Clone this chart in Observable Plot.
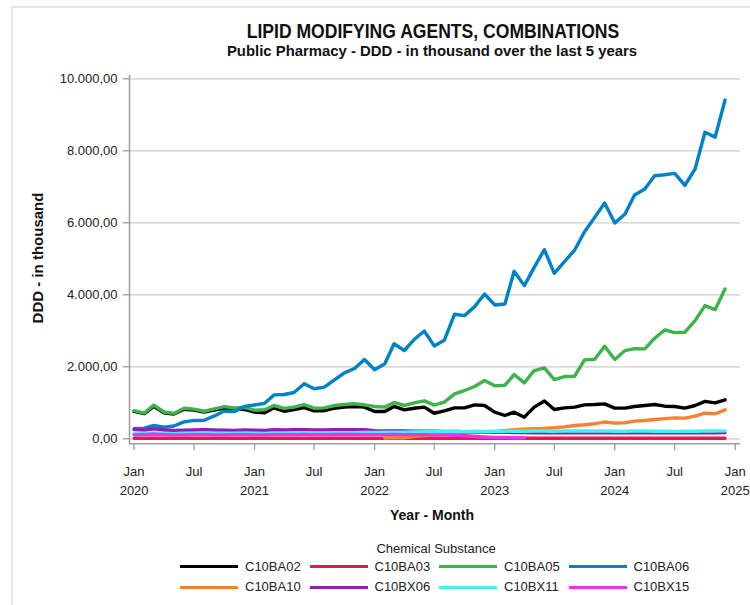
<!DOCTYPE html>
<html>
<head>
<meta charset="utf-8">
<script src="https://cdn.jsdelivr.net/npm/d3@7"></script>
<script src="https://cdn.jsdelivr.net/npm/@observablehq/plot@0.6"></script>
<style>
  html, body { margin: 0; padding: 0; background: #fff; }
  #wrap { position: relative; width: 750px; height: 605px; overflow: hidden; font-family: "Liberation Sans", Arial, sans-serif; color: #222; }
  #frame { position: absolute; left: 11px; top: 6px; width: 760px; height: 620px; border-left: 2px solid #e6e6e6; border-top: 2px solid #e6e6e6; }
  .abs { position: absolute; white-space: nowrap; }
  #title { left: 433px; top: 31px; transform: translate(-50%, -50%) scaleX(0.9); font-weight: bold; font-size: 19.5px; line-height: 22px; color: #111; }
  #subtitle { left: 432px; top: 51px; transform: translate(-50%, -50%) scaleX(0.96); font-weight: bold; font-size: 15.5px; line-height: 18px; color: #111; }
  #ylabel { left: 37px; top: 258px; transform: translate(-50%, -50%) rotate(-90deg); font-weight: bold; font-size: 15px; color: #111; }
  #xlabel { left: 432px; top: 515px; transform: translate(-50%, -50%); font-weight: bold; font-size: 14px; color: #111; }
  #legtitle { left: 436px; top: 548px; transform: translate(-50%, -50%); font-size: 13px; color: #222; }
  .sw { position: absolute; height: 3px; width: 58px; }
  .lt { position: absolute; font-size: 13px; line-height: 16px; color: #222; white-space: nowrap; }
  #chart { position: absolute; left: 0; top: 0; }
</style>
</head>
<body>
<div id="wrap">
  <div id="frame"></div>
  <div id="chart"></div>
  <div id="title" class="abs">LIPID MODIFYING AGENTS, COMBINATIONS</div>
  <div id="subtitle" class="abs">Public Pharmacy - DDD - in thousand over the last 5 years</div>
  <div id="ylabel" class="abs">DDD - in thousand</div>
  <div id="xlabel" class="abs">Year - Month</div>
  <div id="legtitle" class="abs">Chemical Substance</div>
  <div id="legend"></div>
</div>
<script>
// ---- data ----
const months = d3.utcMonth.range(new Date(Date.UTC(2020, 0, 1)), new Date(Date.UTC(2025, 0, 1)));

const seriesNames = ["C10BA02", "C10BA03", "C10BA05", "C10BA06", "C10BA10", "C10BX06", "C10BX11", "C10BX15"];
const seriesColors = ["#000000", "#e6194b", "#3cb44b", "#0082c8", "#f58231", "#911eb4", "#46f0f0", "#f032e6"];

const C10BA02 = [
  760, 700, 900, 725, 690, 820, 800, 745, 800, 850, 830, 815,
  745, 722, 861, 765, 810, 865, 778, 780, 850, 880, 898, 880,
  759, 759, 898, 805, 850, 880, 710, 775, 860, 860, 943, 925,
  740, 647, 740, 601, 879, 1050, 814, 860, 879, 943, 953, 971,
  851, 851, 897, 925, 953, 906, 897, 851, 925, 1040, 999, 1082
];
const C10BA03 = [
  14, 15, 15, 14, 16, 15, 15, 14, 15, 16, 15, 15,
  14, 15, 15, 16, 15, 14, 15, 15, 16, 15, 15, 14,
  15, 15, 16, 15, 14, 15, 15, 15, 16, 15, 14, 15,
  15, 16, 15, 15, 14, 15, 15, 16, 15, 15, 14, 15,
  16, 15, 15, 14, 15, 15, 16, 15, 15, 14, 15, 15
];
const C10BA05 = [
  780, 715, 935, 745, 705, 850, 825, 765, 833, 895, 855, 870,
  795, 805, 925, 845, 880, 950, 850, 860, 925, 954, 972, 944,
  898, 880, 1009, 925, 1000, 1055, 935, 1020, 1249, 1341, 1452, 1619,
  1471, 1489, 1785, 1554, 1896, 1970, 1646, 1730, 1739, 2192, 2211, 2571,
  2201, 2451, 2506, 2497, 2793, 3024, 2950, 2960, 3283, 3700, 3589, 4162
];
const C10BA06 = [
  278, 296, 370, 320, 355, 470, 510, 515, 635, 770, 755, 900,
  940, 985, 1220, 1230, 1285, 1528, 1390, 1435, 1640, 1833, 1953, 2203,
  1917, 2083, 2639, 2453, 2758, 2995, 2580, 2740, 3460, 3422, 3672, 4023,
  3718, 3746, 4652, 4255, 4763, 5253, 4597, 4920, 5244, 5753, 6151, 6548,
  5993, 6243, 6770, 6937, 7307, 7335, 7372, 7040, 7495, 8515, 8380, 9410
];
const C10BA10 = [
  null, null, null, null, null, null, null, null, null, null, null, null,
  null, null, null, null, null, null, null, null, null, null, null, null,
  null, 20, 25, 30, 60, 90, 100, 120, 140, 160, 175, 185,
  190, 230, 250, 265, 280, 290, 305, 330, 370, 390, 420, 465,
  435, 445, 490, 510, 535, 560, 580, 575, 630, 710, 695, 805
];
const C10BX06 = [
  255, 245, 280, 245, 235, 240, 245, 255, 245, 240, 235, 245,
  240, 235, 250, 245, 250, 255, 245, 245, 250, 255, 255, 250,
  225, 220, 215, 215, 210, 210, 210, 205, 205, 200, 200, 195,
  185, 180, 175, 175, 170, 170, 170, 170, 170, 170, 170, 165,
  170, 170, 165, 165, 170, 165, 165, 165, 170, 170, 170, 175
];
const C10BX11 = [
  145, 150, 160, 150, 145, 150, 150, 155, 150, 150, 155, 155,
  150, 150, 155, 155, 160, 160, 165, 165, 170, 170, 170, 175,
  175, 180, 180, 185, 190, 195, 200, 200, 205, 205, 210, 205,
  210, 210, 215, 210, 215, 215, 210, 215, 215, 220, 215, 215,
  210, 210, 215, 215, 210, 210, 205, 210, 210, 215, 215, 220
];
const C10BX15 = [
  110, 115, 125, 115, 110, 110, 115, 115, 110, 110, 115, 115,
  110, 110, 115, 115, 115, 120, 115, 115, 120, 120, 120, 115,
  115, 115, 120, 115, 115, 115, 110, 110, 100, 85, 65, 50,
  40, 35, 30, 25, null, null, null, null, null, null, null, null,
  null, null, null, null, null, null, null, null, null, null, null, null
];
const seriesValues = [C10BA02, C10BA03, C10BA05, C10BA06, C10BA10, C10BX06, C10BX11, C10BX15];

const yTicks = [0, 2000, 4000, 6000, 8000, 10000];
const xTicks = d3.utcMonth.every(6).range(new Date(Date.UTC(2020, 0, 1)), new Date(Date.UTC(2025, 0, 2)));
const monthLabels = {0: "Jan", 6: "Jul"};

// ---- build table ----
const rows = [];
seriesNames.forEach((name, i) => {
  seriesValues[i].forEach((v, j) => {
    if (v != null) rows.push({series: name, date: months[j], value: v});
  });
});

const deLocale = d3.formatLocale({decimal: ",", thousands: ".", grouping: [3], currency: ["", " €"]});
const yFmt = deLocale.format(",.2f");

const xDomain = [new Date(Date.UTC(2019, 11, 18)), new Date(Date.UTC(2025, 0, 17))];
const yDomain = [-139, 10092];

const chart = Plot.plot({
  width: 750,
  height: 500,
  marginTop: 75,
  marginBottom: 56.7,
  marginLeft: 129,
  marginRight: 10,
  style: {fontFamily: "'Liberation Sans', Arial, sans-serif", fontSize: "13px", color: "#222", background: "transparent", overflow: "visible"},
  x: {type: "utc", domain: xDomain},
  y: {domain: yDomain},
  color: {domain: seriesNames, range: seriesColors},
  marks: [
    Plot.gridY(yTicks, {stroke: "#cccccc", strokeOpacity: 1, strokeWidth: 1.3}),
    Plot.ruleX([xDomain[0]], {stroke: "#9d9d9d", strokeWidth: 1.5}),
    Plot.ruleY([yDomain[0]], {stroke: "#9d9d9d", strokeWidth: 1.5}),
    Plot.axisY(yTicks, {tickSize: 6, tickPadding: 6, tickFormat: yFmt, stroke: "#9d9d9d", strokeWidth: 1.3, fill: "#222", label: null}),
    Plot.axisX(xTicks, {tickSize: 7, tickPadding: 12, stroke: "#9d9d9d", strokeWidth: 1.3, fill: "#222", lineHeight: 1.46, label: null,
      tickFormat: d => d.getUTCMonth() === 0 ? `${monthLabels[0]}\n${d.getUTCFullYear()}` : monthLabels[6]}),
    Plot.line(rows, {x: "date", y: "value", z: "series", stroke: "series", strokeWidth: 3.4})
  ]
});
document.getElementById("chart").appendChild(chart);

// ---- legend ----
const legend = document.getElementById("legend");
const colX = [180, 309.5, 439, 568.5];
const rowY = [566.7, 587.3];
seriesNames.forEach((name, i) => {
  const c = i % 4, r = Math.floor(i / 4);
  const sw = document.createElement("div");
  sw.className = "sw";
  sw.style.left = colX[c] + "px";
  sw.style.top = (rowY[r] - 1.5) + "px";
  sw.style.background = seriesColors[i];
  legend.appendChild(sw);
  const t = document.createElement("div");
  t.className = "lt";
  t.style.left = (colX[c] + 65) + "px";
  t.style.top = (rowY[r] - 8) + "px";
  t.textContent = name;
  legend.appendChild(t);
});
</script>
</body>
</html>
